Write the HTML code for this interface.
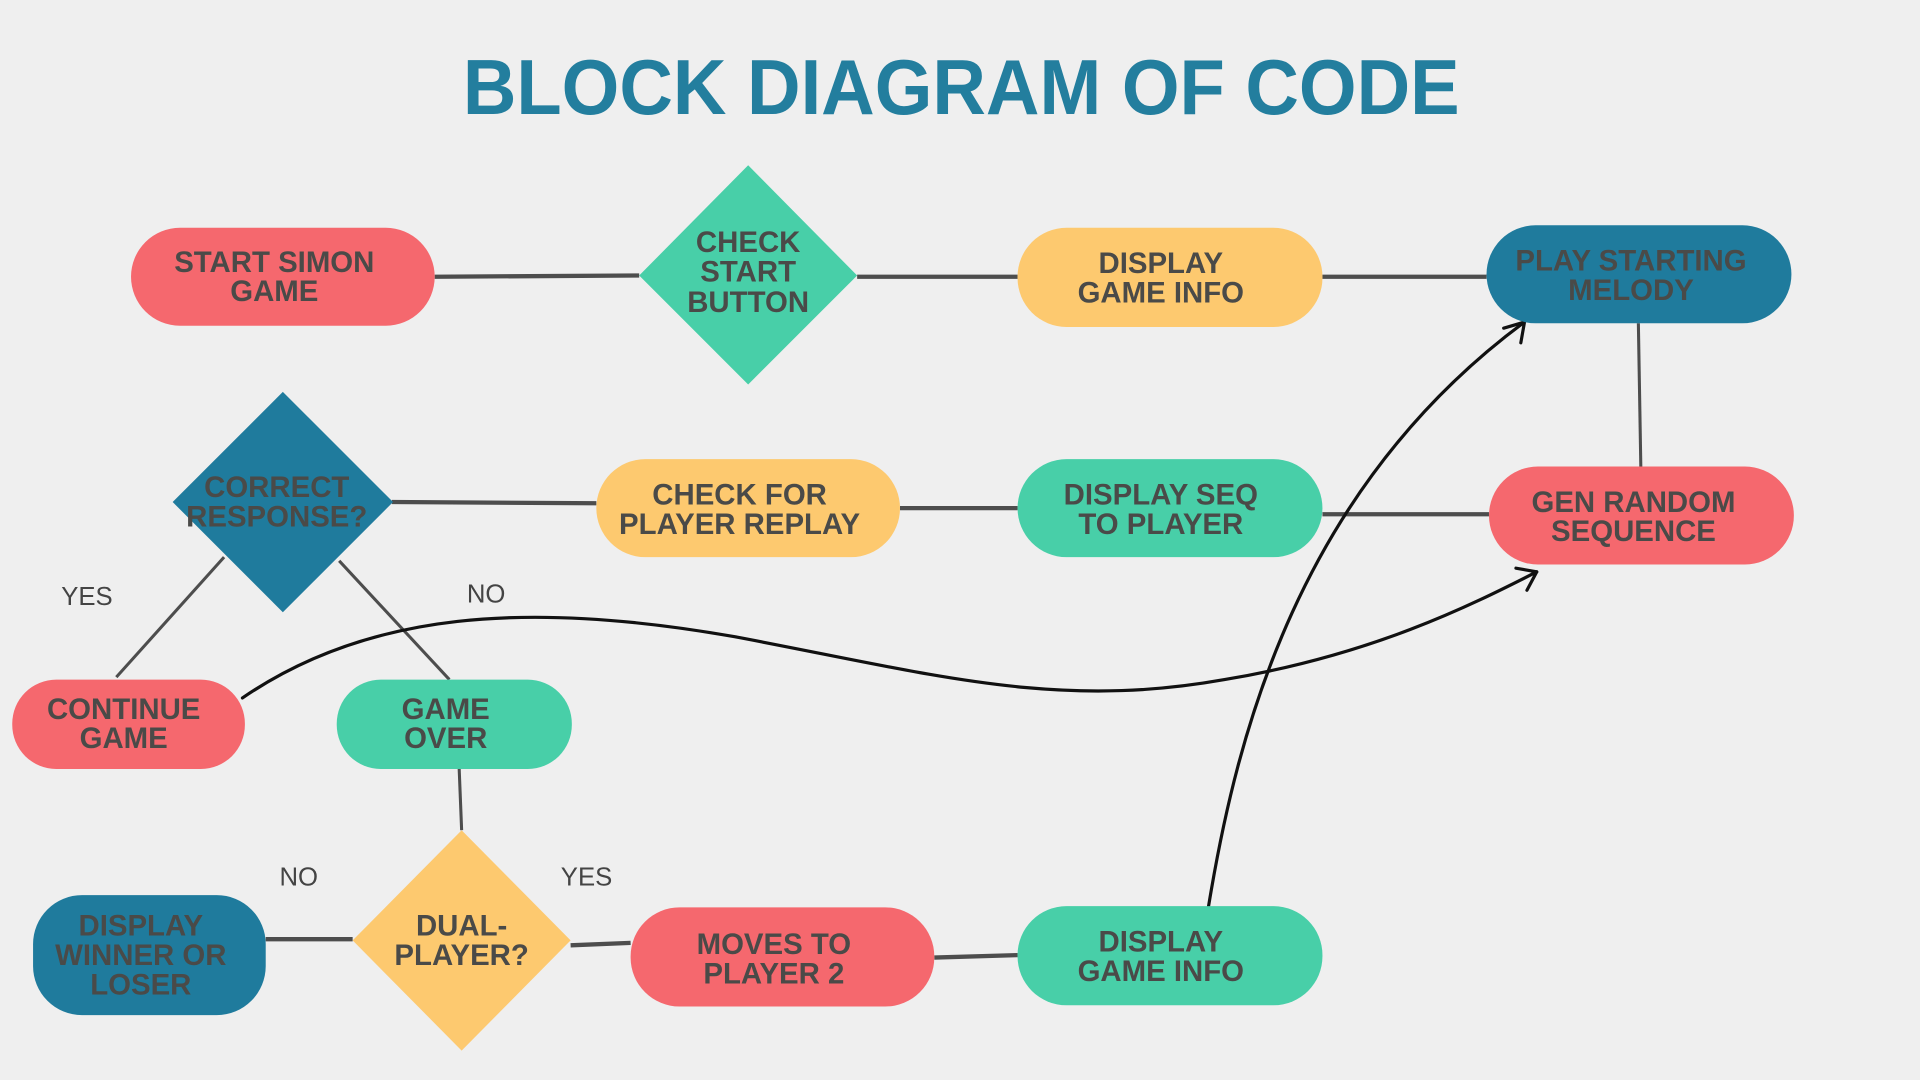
<!DOCTYPE html>
<html><head><meta charset="utf-8"><style>
html,body{margin:0;padding:0;background:#efefef;}
svg{display:block;}
.t{font-family:"Liberation Sans Narrow","Liberation Sans",sans-serif;font-weight:bold;font-size:24px;fill:#4a4a48;text-anchor:middle;}
.l{font-family:"Liberation Sans",sans-serif;font-size:21px;fill:#444;text-anchor:middle;}
.c{stroke:#4d4d4d;stroke-width:3.5;fill:none;}
.a{stroke:#111;stroke-width:2.6;fill:none;stroke-linecap:round;stroke-linejoin:round;}
</style></head><body>
<svg width="1920" height="1080" viewBox="0 0 1568 882" xmlns="http://www.w3.org/2000/svg">
<rect width="1568" height="882" fill="#efefef"/>
<text x="785" y="93" textLength="814" lengthAdjust="spacingAndGlyphs" style="font-family:'Liberation Sans',sans-serif;font-weight:bold;font-size:64px;fill:#237e9e;text-anchor:middle;">BLOCK DIAGRAM OF CODE</text>

<!-- connectors -->
<line class="c" x1="355" y1="226" x2="522" y2="225"/>
<line class="c" x1="700" y1="226" x2="831" y2="226"/>
<line class="c" x1="1080" y1="226" x2="1214" y2="226"/>
<line class="c" x1="1338" y1="264" x2="1340" y2="381" style="stroke-width:2.5"/>
<line class="c" x1="320" y1="410" x2="487" y2="411"/>
<line class="c" x1="735" y1="415" x2="831" y2="415"/>
<line class="c" x1="1080" y1="420" x2="1216" y2="420"/>
<line class="c" x1="183" y1="455" x2="95" y2="553" style="stroke-width:2.5"/>
<line class="c" x1="277" y1="458" x2="367" y2="555" style="stroke-width:2.5"/>
<line class="c" x1="375" y1="628" x2="377" y2="678" style="stroke-width:2.5"/>
<line class="c" x1="217" y1="767" x2="288" y2="767"/>
<line class="c" x1="466" y1="772" x2="515" y2="770"/>
<line class="c" x1="763" y1="782" x2="831" y2="780"/>

<!-- curves -->
<path class="a" d="M198,570 C300,500 430,490 600,520 C760,550 860,580 1000,555 C1120,535 1200,495 1255,467"/>
<path class="a" d="M1238,464 L1255,467 L1247,482"/>
<path class="a" d="M987,740 C1010,600 1060,400 1245,263"/>
<path class="a" d="M1228,268 L1245,263 L1242,280"/>

<!-- nodes -->
<rect x="107" y="186" width="248" height="80" rx="40" fill="#f5686e"/>
<text class="t"><tspan x="224" y="222">START SIMON</tspan><tspan x="224" y="246">GAME</tspan></text>

<polygon points="611,135 700,225 611,314 522,225" fill="#48cfa8"/>
<text class="t"><tspan x="611" y="206">CHECK</tspan><tspan x="611" y="230">START</tspan><tspan x="611" y="255">BUTTON</tspan></text>

<rect x="831" y="186" width="249" height="81" rx="40" fill="#fdc96f"/>
<text class="t"><tspan x="948" y="223">DISPLAY</tspan><tspan x="948" y="247">GAME INFO</tspan></text>

<rect x="1214" y="184" width="249" height="80" rx="40" fill="#1f7b9d"/>
<text class="t"><tspan x="1332" y="221">PLAY STARTING</tspan><tspan x="1332" y="245">MELODY</tspan></text>

<polygon points="231,320 321,410 231,500 141,410" fill="#1f7b9d"/>
<text class="t"><tspan x="226" y="406">CORRECT</tspan><tspan x="226" y="430">RESPONSE?</tspan></text>

<rect x="487" y="375" width="248" height="80" rx="40" fill="#fdc96f"/>
<text class="t"><tspan x="604" y="412">CHECK FOR</tspan><tspan x="604" y="436">PLAYER REPLAY</tspan></text>

<rect x="831" y="375" width="249" height="80" rx="40" fill="#48cfa8"/>
<text class="t"><tspan x="948" y="412">DISPLAY SEQ</tspan><tspan x="948" y="436">TO PLAYER</tspan></text>

<rect x="1216" y="381" width="249" height="80" rx="40" fill="#f5686e"/>
<text class="t"><tspan x="1334" y="418">GEN RANDOM</tspan><tspan x="1334" y="442">SEQUENCE</tspan></text>

<rect x="10" y="555" width="190" height="73" rx="36" fill="#f5686e"/>
<text class="t"><tspan x="101" y="587">CONTINUE</tspan><tspan x="101" y="611">GAME</tspan></text>

<rect x="275" y="555" width="192" height="73" rx="36" fill="#48cfa8"/>
<text class="t"><tspan x="364" y="587">GAME</tspan><tspan x="364" y="611">OVER</tspan></text>

<text class="l" x="71" y="494">YES</text>
<text class="l" x="397" y="492">NO</text>
<text class="l" x="244" y="723">NO</text>
<text class="l" x="479" y="723">YES</text>

<rect x="27" y="731" width="190" height="98" rx="40" fill="#1f7b9d"/>
<text class="t"><tspan x="115" y="764">DISPLAY</tspan><tspan x="115" y="788">WINNER OR</tspan><tspan x="115" y="812">LOSER</tspan></text>

<polygon points="377,678 466,768 377,858 288,768" fill="#fdc96f"/>
<text class="t"><tspan x="377" y="764">DUAL-</tspan><tspan x="377" y="788">PLAYER?</tspan></text>

<rect x="515" y="741" width="248" height="81" rx="40" fill="#f5686e"/>
<text class="t"><tspan x="632" y="779">MOVES TO</tspan><tspan x="632" y="803">PLAYER 2</tspan></text>

<rect x="831" y="740" width="249" height="81" rx="40" fill="#48cfa8"/>
<text class="t"><tspan x="948" y="777">DISPLAY</tspan><tspan x="948" y="801">GAME INFO</tspan></text>
</svg>
</body></html>
